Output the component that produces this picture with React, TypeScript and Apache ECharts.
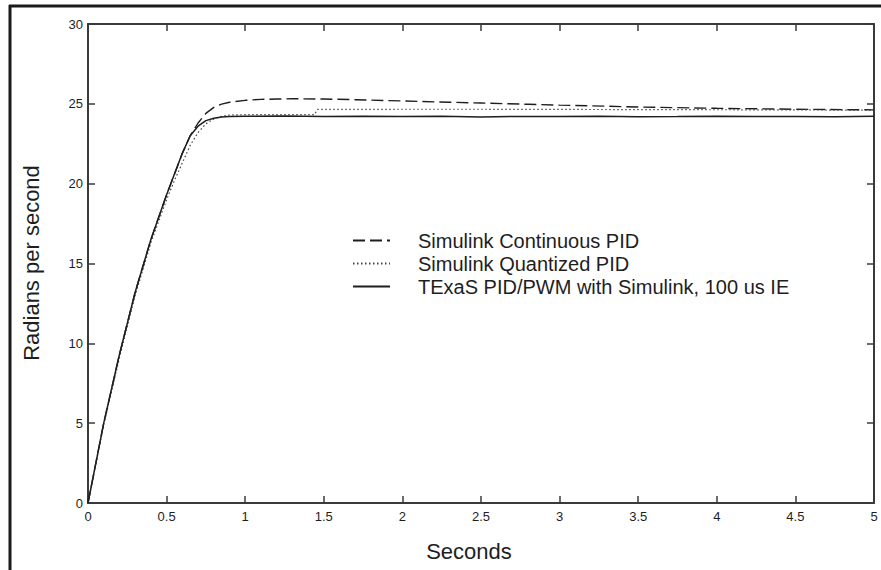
import React, { useEffect, useRef } from "react";
import * as echarts from "echarts";

// Time (s) and angular speed (rad/s)
const tContinuous = [0, 0.1, 0.2, 0.3, 0.4, 0.5, 0.6, 0.65, 0.7, 0.75, 0.8, 0.85, 0.9, 1.0, 1.1, 1.2, 1.3, 1.5, 1.7, 2.0, 2.3, 2.5, 2.8, 3.0, 3.3, 3.5, 4.0, 4.5, 5.0];
const vContinuous = [0, 5.0, 9.3, 13.2, 16.5, 19.3, 21.9, 23.0, 23.8, 24.4, 24.78, 24.98, 25.1, 25.22, 25.28, 25.3, 25.32, 25.3, 25.26, 25.18, 25.1, 25.05, 24.97, 24.92, 24.85, 24.8, 24.72, 24.66, 24.62];

const tQuantized = [0, 0.1, 0.2, 0.3, 0.4, 0.5, 0.55, 0.6, 0.65, 0.7, 0.75, 0.8, 0.85, 0.9, 1.0, 1.2, 1.44, 1.46, 2.0, 2.5, 3.0, 3.5, 4.0, 4.5, 5.0];
const vQuantized = [0, 4.9, 9.1, 13.0, 16.3, 19.0, 20.2, 21.3, 22.4, 23.2, 23.75, 24.05, 24.22, 24.3, 24.32, 24.32, 24.32, 24.65, 24.66, 24.66, 24.65, 24.64, 24.63, 24.62, 24.6];

const tTexas = [0, 0.1, 0.2, 0.3, 0.4, 0.5, 0.6, 0.65, 0.7, 0.75, 0.8, 0.85, 0.9, 1.0, 1.25, 1.5, 1.75, 2.0, 2.25, 2.5, 2.75, 3.0, 3.25, 3.5, 3.75, 4.0, 4.25, 4.5, 4.75, 5.0];
const vTexas = [0, 5.0, 9.3, 13.2, 16.5, 19.3, 21.9, 23.0, 23.6, 23.95, 24.1, 24.17, 24.2, 24.22, 24.24, 24.2, 24.23, 24.2, 24.22, 24.18, 24.21, 24.2, 24.22, 24.19, 24.2, 24.22, 24.2, 24.21, 24.19, 24.22];

const seriesNames = [
  "Simulink Continuous PID",
  "Simulink Quantized PID",
  "TExaS PID/PWM with Simulink, 100 us IE",
];
const xTitle = "Seconds";
const yTitle = "Radians per second";

const FONT = "'Liberation Sans', Arial, Helvetica, sans-serif";
const INK = "#1e1e1e";
const AXIS = "#3a3a3a";

const zip = (t: number[], v: number[]) => t.map((x, i) => [x, v[i]]);

export default function App() {
  const ref = useRef<HTMLDivElement>(null);
  useEffect(() => {
    if (!ref.current) return;
    const chart = echarts.init(ref.current, undefined, { renderer: "svg" });
    const axisCommon = {
      type: "value" as const,
      axisLine: { show: true, onZero: false, lineStyle: { color: AXIS, width: 2 } },
      axisTick: { show: true, inside: true, length: 7, lineStyle: { color: AXIS, width: 1.5 } },
      splitLine: { show: false },
    };
    const label = { color: INK, fontSize: 13, fontFamily: FONT };
    chart.setOption({
      animation: false,
      backgroundColor: "#ffffff",
      grid: { left: 88, top: 24, right: 7, bottom: 67, containLabel: false },
      legend: {
        orient: "vertical",
        left: 352,
        top: 229,
        padding: 0,
        itemWidth: 37,
        itemHeight: 14,
        itemGap: 0,
        data: seriesNames,
        itemStyle: { opacity: 0 },
        textStyle: { color: INK, fontSize: 20, fontFamily: FONT, lineHeight: 23, padding: [0, 0, 0, 23] },
      },
      xAxis: [
        {
          ...axisCommon,
          position: "bottom",
          min: 0,
          max: 5,
          interval: 0.5,
          axisLabel: { ...label, margin: 7 },
        },
        {
          ...axisCommon,
          position: "top",
          min: 0,
          max: 5,
          interval: 0.5,
          axisLabel: { show: false },
        },
      ],
      yAxis: [
        {
          ...axisCommon,
          position: "left",
          min: 0,
          max: 30,
          interval: 5,
          axisLabel: { ...label, margin: 5 },
        },
        {
          ...axisCommon,
          position: "right",
          min: 0,
          max: 30,
          interval: 5,
          axisLabel: { show: false },
        },
      ],
      series: [
        {
          name: seriesNames[0],
          type: "line",
          data: zip(tContinuous, vContinuous),
          showSymbol: false,
          symbol: "none",
          lineStyle: { color: INK, width: 1.4, type: [12, 5] },
          itemStyle: { color: INK },
        },
        {
          name: seriesNames[1],
          type: "line",
          data: zip(tQuantized, vQuantized),
          showSymbol: false,
          symbol: "none",
          lineStyle: { color: "#444", width: 1.2, type: [1.5, 2.5] },
          itemStyle: { color: "#444" },
        },
        {
          name: seriesNames[2],
          type: "line",
          data: zip(tTexas, vTexas),
          showSymbol: false,
          symbol: "none",
          lineStyle: { color: INK, width: 1.5, type: "solid" },
          itemStyle: { color: INK },
        },
      ],
      graphic: [
        {
          type: "line",
          shape: { x1: 10, y1: 5, x2: 10, y2: 570 },
          style: { stroke: "#1a1a1a", lineWidth: 3 },
        },
        {
          type: "line",
          shape: { x1: 9, y1: 6, x2: 881, y2: 6 },
          style: { stroke: "#1a1a1a", lineWidth: 3 },
        },
        {
          type: "text",
          x: 469,
          y: 551,
          style: {
            text: xTitle,
            fontSize: 22,
            fontFamily: FONT,
            fill: INK,
            align: "center",
            verticalAlign: "middle",
          },
        },
        {
          type: "text",
          x: 31,
          y: 263,
          rotation: Math.PI / 2,
          style: {
            text: yTitle,
            fontSize: 22,
            fontFamily: FONT,
            fill: INK,
            align: "center",
            verticalAlign: "middle",
          },
        },
      ],
    });
    return () => chart.dispose();
  }, []);
  return <div ref={ref} style={{ width: 881, height: 570, position: "absolute", left: 0, top: 0 }} />;
}
